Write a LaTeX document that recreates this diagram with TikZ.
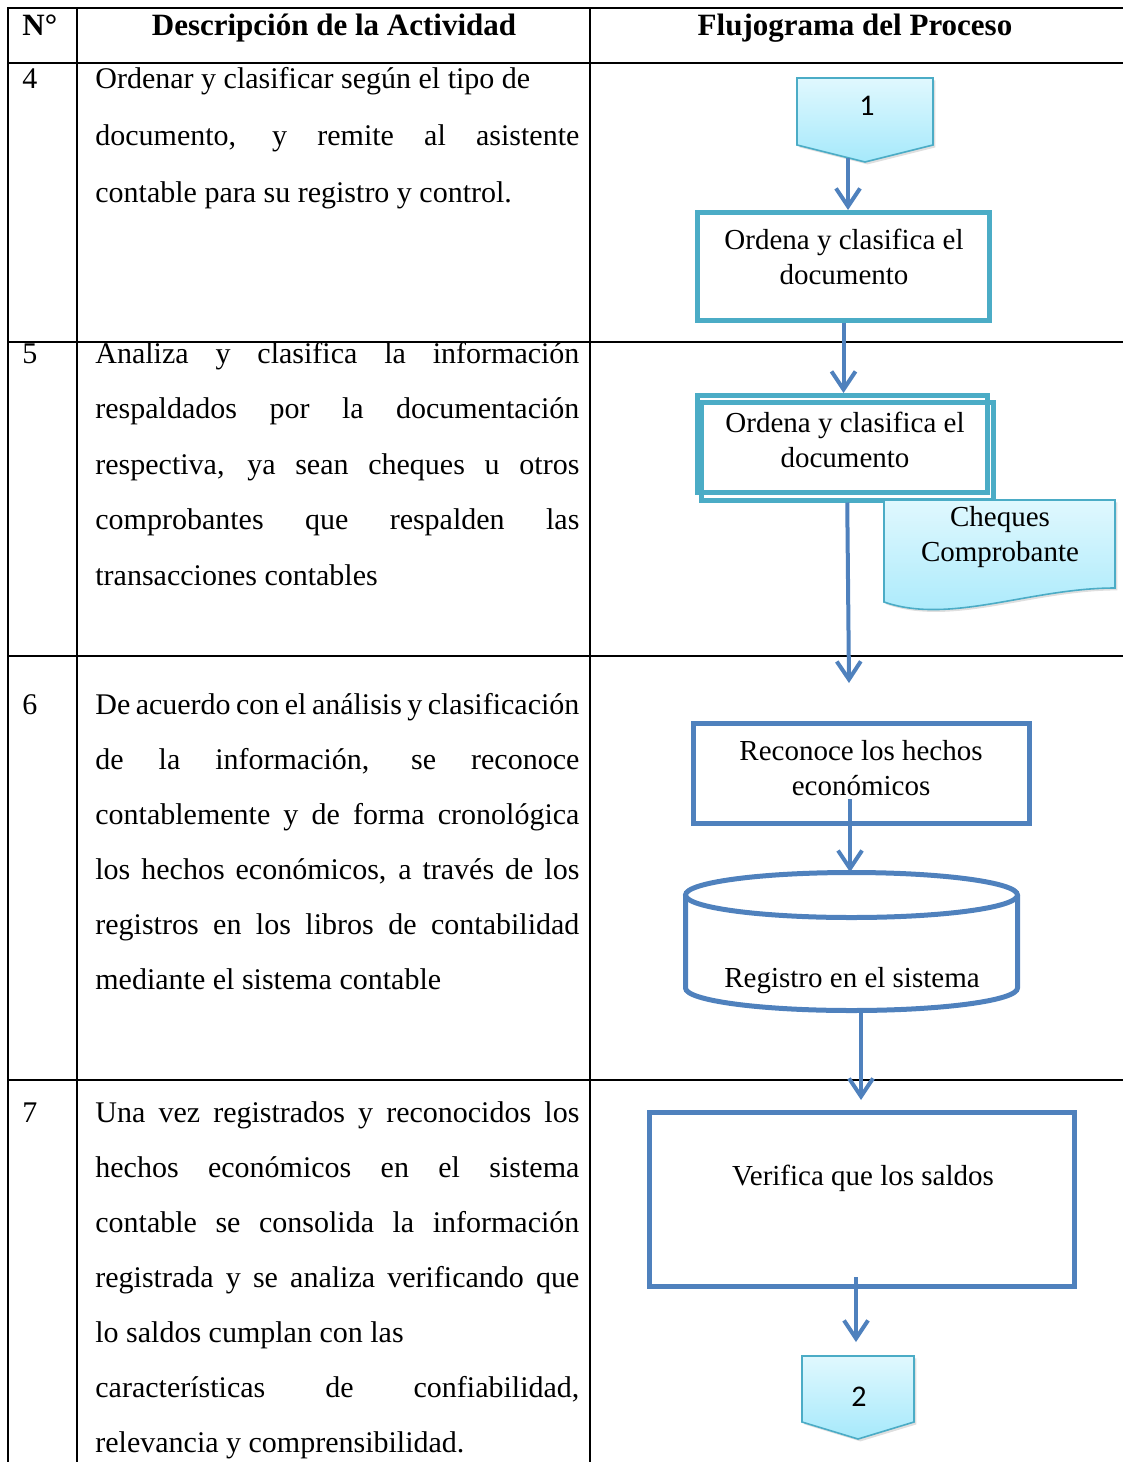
\documentclass[tikz,border=0pt]{standalone}
\usepackage{fontspec}
\setmainfont{Liberation Serif}
\newfontfamily\calibri{Carlito}
\usetikzlibrary{arrows.meta,shadows}
\definecolor{azul}{RGB}{79,129,189}
\definecolor{turq}{RGB}{75,172,198}
\definecolor{celesteA}{RGB}{224,248,254}
\definecolor{celesteB}{RGB}{166,233,251}
\tolerance=10000
\hbadness=10000

\tikzset{
    tabla/.style={line width=1.2pt},
    caja/.style={rectangle,draw,line width=2.5pt,inner sep=0pt},
    cilindro/.style={draw=azul,line width=2.5pt},
    flecha/.style={draw=azul,line width=2pt,-{Straight Barb[length=9pt,width=12pt]}},
    conector/.style={draw=turq,line width=0.8pt,top color=celesteA,bottom color=celesteB,
        drop shadow={opacity=0.25,shadow xshift=1.2pt,shadow yshift=-1.2pt}},
    txt/.style={align=center,inner sep=0pt,font=\fontsize{14.5pt}{17.5pt}\selectfont},
    numero/.style={font=\calibri\fontsize{15pt}{18pt}\selectfont,inner sep=0pt},
    fila/.style={anchor=base west,inner sep=0pt,font=\fontsize{15pt}{17pt}\selectfont},
    desc/.style={anchor=base west,inner sep=0pt,text width=242pt,align=justify,
        font=\fontsize{15pt}{#1}\selectfont},
    cabeza/.style={anchor=base,inner sep=0pt,font=\fontsize{15.5pt}{18pt}\selectfont\bfseries}
    }

\begin{document}
\begin{tikzpicture}[x=0.5pt,y=-0.5pt]
    \useasboundingbox (0,0) rectangle (1123,1462);
    % The Table
    \draw[tabla] (8,1462) -- (8,8) -- (1123,8);
    \draw[tabla] (77,8) -- (77,1462);
    \draw[tabla] (590,8) -- (590,1462);
    \foreach \y in {63,342,656,1080}
        \draw[tabla] (8,\y) -- (1123,\y);
    \node[cabeza,anchor=base west] (hn) at (22,35) {N°};
    \node[cabeza] (hd) at (334,35) {Descripción de la Actividad};
    \node[cabeza] (hf) at (855,35) {Flujograma del Proceso};

    % The Rows
    \node[fila] (n4) at (22,88) {4};
    \node[desc=28.5pt] (d4) at (95,88) {Ordenar y clasificar según el tipo de\newline
        documento, y remite al asistente\linebreak
        contable para su registro y control.};
    \node[fila] (n5) at (22,363) {5};
    \node[desc=27.75pt] (d5) at (95,363) {Analiza y clasifica la información\linebreak
        respaldados por la documentación\linebreak
        respectiva, ya sean cheques u otros\linebreak
        comprobantes que respalden las\linebreak
        transacciones contables};
    \node[fila] (n6) at (22,714) {6};
    \node[desc=27.5pt] (d6) at (95,714) {De acuerdo con el análisis y clasificación\linebreak
        de la información, se reconoce\linebreak
        contablemente y de forma cronológica\linebreak
        los hechos económicos, a través de los\linebreak
        registros en los libros de contabilidad\linebreak
        mediante el sistema contable};
    \node[fila] (n7) at (22,1122) {7};
    \node[desc=27.5pt] (d7) at (95,1122) {Una vez registrados y reconocidos los\linebreak
        hechos económicos en el sistema\linebreak
        contable se consolida la información\linebreak
        registrada y se analiza verificando que\linebreak
        lo saldos cumplan con las\newline
        características de confiabilidad,\linebreak
        relevancia y comprensibilidad.};

    % The Flow
    \draw[conector] (797,78) -- (933,78) -- (933,145) -- (865,162) -- (797,145) -- cycle;
    \node[numero] (c1) at (867,106) {1};
    \coordinate (c1s) at (848,158);
    \node[caja,draw=turq,minimum width=146pt,minimum height=54pt] (ord1) at (843.5,266.5) {};
    \node[txt] (ord1t) at (844,257) {Ordena y clasifica el\\documento};
    \draw[flecha] (c1s) -- (c1s |- ord1.north);

    \node[caja,draw=turq,minimum width=146.25pt,minimum height=48.75pt] (ord2b) at (847.25,451.25) {};
    \node[caja,draw=turq,minimum width=145.25pt,minimum height=48.5pt] (ord2) at (842.25,444) {};
    \node[txt] (ord2t) at (845,440) {Ordena y clasifica el\\documento};
    \draw[flecha] (ord1.south) -- (ord1.south |- ord2.north);

    \draw[conector] (884,500) -- (1115,500) -- (1115,588)
        .. controls (1030,588) and (950,625) .. (884,602) -- cycle;
    \node[txt] (doc) at (1000,537) {Cheques\\Comprobante};

    \coordinate (f5) at (849,683);
    \draw[flecha] (ord2b.south) -- (f5);

    \node[caja,draw=azul,minimum width=168pt,minimum height=50pt] (reco) at (861.5,773.5) {};
    \node[txt] (recot) at (861,768.5) {Reconoce los hechos\\económicos};

    \node[inner sep=0pt,minimum width=166pt,minimum height=69pt] (reg) at (851.5,941.5) {};
    \draw[cilindro] (851.5,895) ellipse [x radius=166,y radius=22.5];
    \draw[cilindro] (685.5,895) -- (685.5,988)
        arc[start angle=180,end angle=0,x radius=166,y radius=22.5] -- (1017.5,895);
    \node[txt,anchor=base] (regt) at (852,987) {Registro en el sistema};
    \draw[flecha] ([xshift=-5.75pt,yshift=13.5pt]reco.south) -- ([xshift=-0.75pt]reg.north);

    \coordinate (f8) at (861,1100);
    \draw[flecha] ([xshift=4.75pt]reg.south) -- (f8);

    \node[caja,draw=azul,minimum width=212.5pt,minimum height=87pt] (verif) at (862,1199.5) {};
    \node[txt,anchor=base] (verift) at (863,1185) {Verifica que los saldos};

    \draw[conector] (802,1356) -- (914,1356) -- (914,1422) -- (858,1439) -- (802,1422) -- cycle;
    \node[numero] (c2) at (859,1397) {2};
    \coordinate (f9) at (856,1342);
    \draw[flecha] ([xshift=-3pt,yshift=6pt]verif.south) -- (f9);
\end{tikzpicture}
\end{document}
